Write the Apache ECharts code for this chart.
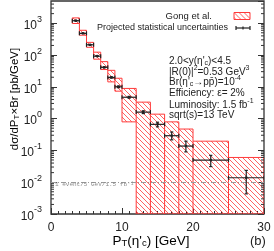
<!DOCTYPE html>
<html><head><meta charset="utf-8">
<script src="https://cdn.jsdelivr.net/npm/echarts@6/dist/echarts.min.js"></script>
<style>html,body{margin:0;padding:0;background:#fff}#c{width:274px;height:251px}</style>
</head><body><div id="c"></div>
<script>
// ---- data ----
const binLow  = [3, 4, 5, 6, 7, 8, 9, 10, 12, 14, 16, 18, 20, 25];
const binHigh = [4, 5, 6, 7, 8, 9, 10, 12, 14, 16, 18, 20, 25, 30];
// Gong et al. prediction band (null = below the plotted range)
const gongLow  = [980, 420, 175, 74, 35, 14.3, 7.3, 0.79, null, null, null, null, null, null];
const gongHigh = [1470, 600, 250, 123, 62, 33, 18.6, 8.9, 3.3, 1.38, 0.79, 0.47, 0.195, 0.06];
// projected measurement with statistical uncertainties
const proj     = [1200, 480, 210, 92, 41, 19.7, 10, 4.7, 1.6, 0.66, 0.29, 0.137, 0.0497, 0.0138];
const projLow  = [1194, 476, 207, 90.3, 39.8, 18.9, 9.4, 4.42, 1.44, 0.55, 0.215, 0.09, 0.031, 0.0043];
const projHigh = [1206, 484, 213, 93.7, 42.2, 20.5, 10.6, 4.98, 1.76, 0.77, 0.38, 0.195, 0.07, 0.0235];
const oneEventLevel = 6.67e-3;
const yTickExps = [-3, -2, -1, 0, 1, 2, 3];
const xTicks = [0, 10, 20, 30];

const Y_MIN = 1e-3, Y_MAX = 5000;
const FONT = 'Liberation Sans, Arial, Helvetica, sans-serif';
const RED = '#ff3a3a';
const INK = '#222';

function hatch() {
  const s = 5, c = document.createElement('canvas');
  c.width = s; c.height = s;
  const g = c.getContext('2d');
  g.strokeStyle = 'rgba(255,70,70,0.95)';
  g.lineWidth = 0.9;
  for (const k of [-s, 0, s]) { g.beginPath(); g.moveTo(k, 0); g.lineTo(k + s, s); g.stroke(); }
  return { image: c, repeat: 'repeat' };
}
const HATCH = hatch();

const bandData = binLow.map((x0, i) => [
  x0, binHigh[i],
  gongLow[i] == null ? Y_MIN : gongLow[i], gongHigh[i],
  i > 0 ? (gongLow[i-1] == null ? Y_MIN : gongLow[i-1]) : (gongLow[i] == null ? Y_MIN : gongLow[i]),
  i > 0 ? gongHigh[i-1] : gongHigh[i],
  i === binLow.length - 1 ? 1 : 0
]);
const projData = binLow.map((x0, i) => [x0, binHigh[i], proj[i], projLow[i], projHigh[i]]);

const minorVals = [];
for (let e = -3; e < 4; e++) for (let m = 2; m <= 9; m++) { const v = m * Math.pow(10, e); if (v < Y_MAX) minorVals.push([v]); }

const chart = echarts.init(document.getElementById('c'), null, { renderer: 'canvas' });

function mkRich(base, small, lh) {
  return {
    t: { fontSize: base, fontFamily: FONT, color: INK, lineHeight: lh, verticalAlign: 'bottom' },
    sup: { fontSize: small, fontFamily: FONT, color: INK, verticalAlign: 'top', lineHeight: small },
    sub: { fontSize: small, fontFamily: FONT, color: INK, verticalAlign: 'bottom', lineHeight: small }
  };
}
const infoRich = mkRich(10, 7, 13);

function infoText(y, text) {
  return { type: 'text', x: 169, y: y, z: 100,
    style: { text: text, rich: infoRich, fill: INK, font: '10px ' + FONT, verticalAlign: 'middle', align: 'left' } };
}

const option = {
  animation: false,
  grid: { left: 51, right: 10, top: 1, bottom: 37, show: true, borderColor: '#333', borderWidth: 1.3,
          backgroundColor: 'transparent', outerBoundsMode: 'none', containLabel: false },
  xAxis: [{
    type: 'value', min: 0, max: 30, interval: 10,
    axisLine: { show: false },
    axisTick: { show: true, inside: true, length: 6, lineStyle: { color: '#333', width: 1 } },
    minorTick: { show: true, splitNumber: 10, length: 3, lineStyle: { color: '#333', width: 1 } },
    splitLine: { show: false },
    axisLabel: { fontSize: 12, fontFamily: FONT, color: INK, margin: 8,
      formatter: v => xTicks.indexOf(v) >= 0 ? String(v) : '' }
  }],
  yAxis: [{
    type: 'log', logBase: 10, min: Y_MIN, max: Y_MAX,
    axisLine: { show: false },
    axisTick: { show: true, inside: true, length: 6, lineStyle: { color: '#333', width: 1 } },
    splitLine: { show: false },
    axisLabel: { margin: 9, showMaxLabel: false,
      formatter: v => { const e = Math.log10(v), r = Math.round(e);
        if (Math.abs(e - r) > 1e-6 || yTickExps.indexOf(r) < 0) return '';
        return '{b|10}{s|' + r + '}'; },
      rich: {
        b: { fontSize: 12, fontFamily: FONT, color: INK, lineHeight: 17, verticalAlign: 'bottom' },
        s: { fontSize: 9, fontFamily: FONT, color: INK, verticalAlign: 'top', lineHeight: 9 } } }
  }, {
    type: 'log', logBase: 10, min: Y_MIN, max: Y_MAX, position: 'right',
    axisLine: { show: false },
    axisTick: { show: true, inside: true, length: 6, lineStyle: { color: '#333', width: 1 } },
    splitLine: { show: false }, axisLabel: { show: false }
  }],
  series: [
    {
      type: 'custom', name: 'Gong et al.', z: 2, clip: true,
      data: bandData,
      encode: { x: [0, 1], y: [2, 3] },
      renderItem: (params, api) => {
        const x0 = api.value(0), x1 = api.value(1), lo = api.value(2), hi = api.value(3);
        const plo = api.value(4), phi = api.value(5), last = api.value(6);
        const a = api.coord([x0, hi]), b = api.coord([x1, lo]);
        const ls = { stroke: RED, lineWidth: 1 };
        const ch = [
          { type: 'rect', shape: { x: a[0], y: a[1], width: b[0] - a[0], height: b[1] - a[1] }, style: { fill: HATCH } },
          { type: 'line', shape: { x1: a[0], y1: a[1], x2: b[0], y2: a[1] }, style: ls },
          { type: 'line', shape: { x1: a[0], y1: b[1], x2: b[0], y2: b[1] }, style: ls }
        ];
        const vt = api.coord([x0, Math.max(hi, phi)]), vb = api.coord([x0, Math.min(lo, plo)]);
        ch.push({ type: 'line', shape: { x1: vt[0], y1: vt[1], x2: vb[0], y2: vb[1] }, style: ls });
        if (last) ch.push({ type: 'line', shape: { x1: b[0], y1: a[1], x2: b[0], y2: b[1] }, style: ls });
        return { type: 'group', children: ch };
      },
      markLine: {
        silent: true, symbol: 'none',
        lineStyle: { color: '#9a9a9a', type: [5, 2, 1, 2], width: 1 },
        label: { show: false },
        data: [{ yAxis: oneEventLevel }]
      }
    },
    {
      type: 'custom', name: 'Projected statistical uncertainties', z: 5, clip: true,
      data: projData,
      encode: { x: [0, 1], y: [2, 3, 4] },
      renderItem: (params, api) => {
        const x0 = api.value(0), x1 = api.value(1), v = api.value(2), lo = api.value(3), hi = api.value(4);
        const xm = (x0 + x1) / 2;
        const l = api.coord([x0, v]), r = api.coord([x1, v]), t = api.coord([xm, hi]), bt = api.coord([xm, lo]);
        const ls = { stroke: INK, lineWidth: 1.2 };
        const c = 2, cv = 1.6;
        return { type: 'group', children: [
          { type: 'line', shape: { x1: l[0], y1: l[1], x2: r[0], y2: r[1] }, style: ls },
          { type: 'line', shape: { x1: l[0], y1: l[1] - c, x2: l[0], y2: l[1] + c }, style: ls },
          { type: 'line', shape: { x1: r[0], y1: r[1] - c, x2: r[0], y2: r[1] + c }, style: ls },
          { type: 'line', shape: { x1: t[0], y1: t[1], x2: bt[0], y2: bt[1] }, style: ls },
          { type: 'line', shape: { x1: t[0] - cv, y1: t[1], x2: t[0] + cv, y2: t[1] }, style: ls },
          { type: 'line', shape: { x1: bt[0] - cv, y1: bt[1], x2: bt[0] + cv, y2: bt[1] }, style: ls },
          { type: 'circle', shape: { cx: (l[0] + r[0]) / 2, cy: l[1], r: 1.4 }, style: { fill: INK } }
        ] };
      }
    },
    {
      type: 'custom', name: 'minor ticks', z: 6, silent: true,
      data: minorVals, encode: { y: 0 },
      renderItem: (params, api) => {
        const v = api.value(0);
        const p = api.coord([0, v]), q = api.coord([30, v]);
        const ls = { stroke: '#333', lineWidth: 1 };
        return { type: 'group', children: [
          { type: 'line', shape: { x1: p[0], y1: p[1], x2: p[0] + 3, y2: p[1] }, style: ls },
          { type: 'line', shape: { x1: q[0], y1: q[1], x2: q[0] - 3, y2: q[1] }, style: ls }
        ] };
      }
    }
  ],
  graphic: [
    // axis titles
    { type: 'text', x: 13, y: 99, rotation: Math.PI / 2, z: 100,
      style: { text: '{t|dσ/dP}{sub|T}{t|×Br [pb/GeV]}', rich: mkRich(11.5, 8, 15), align: 'center', verticalAlign: 'middle' } },
    { type: 'text', x: 151, y: 240, z: 100,
      style: { text: '{t|P}{sub|T}{t|(η\'}{sub|c}{t|) [GeV]}', rich: mkRich(13.5, 9.5, 17), align: 'center', verticalAlign: 'middle' } },
    { type: 'text', x: 250, y: 241, z: 100, style: { text: '(b)', fill: INK, font: '13px ' + FONT, verticalAlign: 'middle' } },
    // one-event line label
    { type: 'text', x: 55, y: 184, z: 100,
      style: { text: '1 event/5 GeV/1.5 fb⁻¹', fill: '#8a8a8a', font: '6px "Liberation Mono", "DejaVu Sans Mono", monospace',
        align: 'left', verticalAlign: 'middle' } },
    // legend
    { type: 'text', x: 212, y: 16, z: 100,
      style: { text: 'Gong et al.', fill: INK, font: '9.5px ' + FONT, align: 'right', verticalAlign: 'middle' } },
    { type: 'rect', x: 234, y: 12.5, z: 100, shape: { width: 16, height: 7 },
      style: { fill: HATCH, stroke: RED, lineWidth: 1 } },
    { type: 'text', x: 228, y: 28, z: 100,
      style: { text: 'Projected statistical uncertainties', fill: INK, font: '9px ' + FONT, align: 'right', verticalAlign: 'middle' } },
    { type: 'group', x: 236, y: 25, z: 100, children: [
      { type: 'line', shape: { x1: 0, y1: 3, x2: 14, y2: 3 }, style: { stroke: INK, lineWidth: 1.2 } },
      { type: 'line', shape: { x1: 0, y1: 1, x2: 0, y2: 5 }, style: { stroke: INK, lineWidth: 1.2 } },
      { type: 'line', shape: { x1: 14, y1: 1, x2: 14, y2: 5 }, style: { stroke: INK, lineWidth: 1.2 } },
      { type: 'line', shape: { x1: 7, y1: 1.5, x2: 7, y2: 4.5 }, style: { stroke: INK, lineWidth: 1.2 } }
    ] },
    // info block
    infoText(60, '{t|2.0<y(η\'}{sub|c}{t|)<4.5}'),
    infoText(71, '{t||R(0)|}{sup|2}{t|=0.53 GeV}{sup|3}'),
    infoText(81, '{t|Br(η\'}{sub|c}{t|→pp̄)=10}{sup|-4}'),
    infoText(92, '{t|Efficiency: ε= 2%}'),
    infoText(104, '{t|Luminosity: 1.5 fb}{sup|-1}'),
    infoText(114, '{t|sqrt(s)=13 TeV}')
  ]
};
chart.setOption(option);
</script></body></html>
